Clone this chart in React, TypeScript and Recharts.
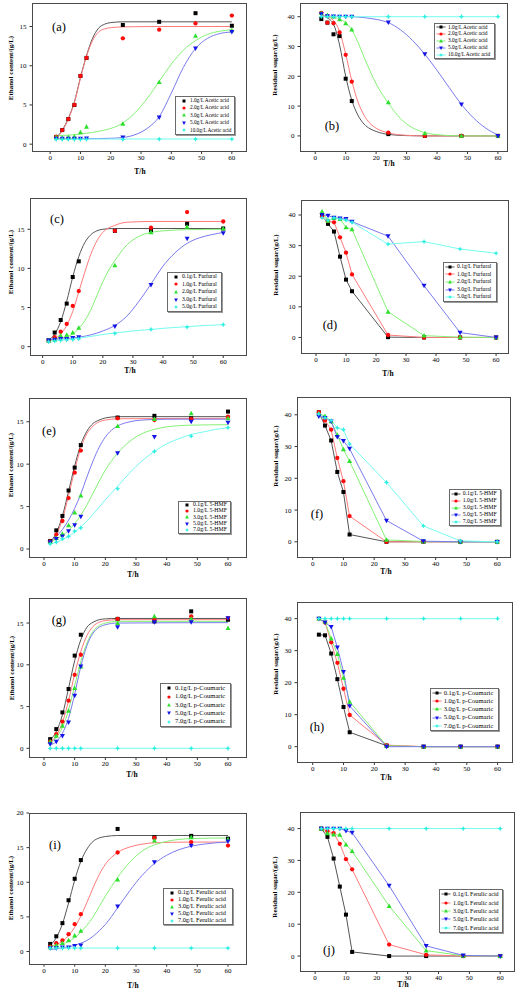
import React from 'react';
import { ComposedChart, Line, XAxis, YAxis } from 'recharts';

// ---------- data ----------
const T = [2, 4, 6, 8, 10, 12, 24, 36, 48, 60];
const X_TICKS = [0, 10, 20, 30, 40, 50, 60];
const ETH_TICKS = [0, 5, 10, 15];
const ETH_TICKS_I = [0, 5, 10, 15, 20];
const SUGAR_TICKS = [0, 10, 20, 30, 40];

const aNames = ['1.0g/L Acetic acid', '2.0g/L Acetic acid', '3.0g/L Acetic acid', '5.0g/L Acetic acid', '10.0g/L Acetic acid'];
const cNames = ['0.1g/L Furfural', '1.0g/L Furfural', '2.0g/L Furfural', '3.0g/L Furfural', '5.0g/L Furfural'];
const eNames = ['0.1g/L 5-HMF', '1.0g/L 5-HMF', '3.0g/L 5-HMF', '5.0g/L 5-HMF', '7.0g/L 5-HMF'];
const gNames = ['0.1g/L p-Coumaric', '1.0g/L p-Coumaric', '3.0g/L p-Coumaric', '5.0g/L p-Coumaric', '7.0g/L p-Coumaric'];
const iNames = ['0.1g/L Ferulic acid', '1.0g/L Ferulic acid', '3.0g/L Ferulic acid', '5.0g/L Ferulic acid', '7.0g/L Ferulic acid'];

const aPts = [
  [0.9, 1.8, 3.2, 5.0, 8.7, 11.0, 15.2, 15.6, 16.7, 15.1],
  [0.95, 1.8, 3.2, 5.0, 8.7, 11.0, 13.5, 14.6, 15.4, 16.4],
  [0.9, 0.8, 0.9, 0.95, 1.5, 2.2, 2.6, 7.9, 13.8, 14.5],
  [0.7, 0.7, 0.7, 0.7, 0.7, 0.75, 0.85, 3.4, 12.2, 14.3],
  [0.6, 0.6, 0.6, 0.6, 0.6, 0.6, 0.6, 0.65, 0.65, 0.65],
];
const aFitBlack = [[2, 0.8], [4, 1.8], [6, 3.3], [8, 5.4], [10, 8.5], [12, 11.3], [14, 13.5], [16, 14.8], [18, 15.3], [20, 15.5], [24, 15.6], [36, 15.6], [60, 15.6]];
const aFitRed = [[2, 0.8], [4, 1.7], [6, 3.2], [8, 5.3], [10, 8.4], [12, 11.2], [14, 13.2], [16, 14.3], [18, 14.7], [20, 14.85], [24, 14.95], [36, 15.0], [60, 15.0]];
const aFitGreen = [[2, 1.1], [6, 1.15], [10, 1.3], [14, 1.5], [18, 1.8], [20, 2.0], [24, 2.7], [28, 4.0], [32, 5.8], [36, 8.0], [40, 10.2], [44, 12.0], [48, 13.2], [52, 14.0], [56, 14.4], [60, 14.6]];
const aFitBlue = [[2, 0.7], [12, 0.7], [20, 0.75], [24, 0.85], [28, 1.2], [32, 2.0], [36, 3.5], [40, 6.5], [44, 9.8], [48, 12.2], [52, 13.5], [56, 14.1], [60, 14.3]];
const aFitCyan = [[2, 0.65], [60, 0.65]];

const bPts = [
  [39.2, 38.0, 34.1, 33.5, 19.2, 11.7, 0.6, 0, 0, 0],
  [41.3, 38.0, 37.8, 34.7, 27.2, 18.2, 1.1, 0, 0, 0],
  [41.2, 40.5, 40.0, 39.1, 37.8, 35.7, 11.3, 0.9, 0, 0],
  [40.9, 40.2, 40.1, 40.0, 40.0, 40.0, 38.1, 27.4, 10.6, 0],
  [40, 40, 40, 40, 40, 40, 40, 40, 40, 40],
];
const bFitBlack = [[2, 40.3], [4, 39.6], [6, 37.5], [8, 30.5], [10, 20], [12, 12], [14, 7], [16, 4], [18, 2.4], [20, 1.5], [24, 0.5], [30, 0.1], [36, 0], [60, 0]];
const bFitRed = [[2, 40.5], [4, 40], [6, 38.8], [8, 35], [10, 27.5], [12, 18.5], [14, 11.5], [16, 7], [18, 4.2], [20, 2.6], [24, 1.0], [30, 0.2], [36, 0], [60, 0]];
const bFitGreen = [[2, 40.2], [6, 39.8], [8, 39.2], [10, 38], [12, 35.5], [14, 31.5], [16, 26.5], [18, 21.8], [20, 17.5], [22, 14], [24, 11], [28, 5.8], [32, 2.7], [36, 1.1], [40, 0.4], [48, 0], [60, 0]];
const bFitBlue = [[2, 40.2], [12, 40], [16, 39.7], [20, 39.1], [24, 38], [28, 35.6], [32, 32], [36, 27.4], [40, 22], [44, 16.2], [48, 10.6], [52, 6], [56, 2.6], [60, 0.3]];
const bFitCyan = [[2, 40], [60, 40]];

const cPts = [
  [0.8, 1.8, 3.4, 5.5, 8.9, 10.9, 14.8, 14.9, 15.7, 15.1],
  [0.7, 1.2, 1.9, 2.9, 5.2, 7.1, 14.8, 15.2, 17.2, 16.0],
  [0.8, 0.9, 1.4, 1.5, 1.8, 2.4, 10.4, 14.6, 15.3, 15.1],
  [0.8, 0.9, 1.0, 1.0, 1.1, 1.2, 2.6, 7.9, 13.8, 14.5],
  [0.6, 0.7, 0.8, 0.85, 0.9, 1.0, 1.7, 2.2, 2.5, 2.8],
];
const cFitBlack = [[2, 0.8], [4, 1.6], [6, 3.2], [8, 5.8], [10, 8.9], [12, 11.5], [14, 13.3], [16, 14.3], [18, 14.8], [20, 15.0], [24, 15.1], [60, 15.1]];
const cFitRed = [[2, 0.7], [4, 1.0], [6, 1.6], [8, 2.7], [10, 4.5], [12, 7.0], [14, 9.5], [16, 11.8], [18, 13.5], [20, 14.6], [24, 15.5], [28, 15.9], [36, 16.0], [60, 16.0]];
const cFitGreen = [[2, 0.9], [6, 1.1], [10, 1.6], [12, 2.3], [14, 3.3], [16, 4.7], [18, 6.5], [20, 8.3], [22, 9.8], [24, 11.0], [28, 13.0], [32, 14.1], [36, 14.6], [40, 14.8], [48, 14.95], [60, 15.0]];
const cFitBlue = [[2, 0.9], [12, 1.2], [16, 1.5], [20, 2.0], [24, 2.7], [28, 3.9], [32, 5.8], [36, 8.0], [40, 10.3], [44, 12.0], [48, 13.2], [52, 13.9], [56, 14.3], [60, 14.6]];
const cFitCyan = [[2, 0.7], [6, 0.85], [10, 1.0], [12, 1.1], [16, 1.3], [20, 1.55], [24, 1.75], [30, 2.0], [36, 2.2], [42, 2.4], [48, 2.55], [54, 2.7], [60, 2.8]];

const dPts = [
  [40.0, 37.1, 34.6, 26.4, 18.9, 15.1, 0.1, 0, 0, 0],
  [39.5, 38.0, 37.6, 32.7, 27.7, 20.6, 0.8, 0, 0, 0],
  [41.1, 38.1, 39.0, 38.7, 36.0, 35.3, 8.4, 0.6, 0.1, 0],
  [40.0, 39.8, 39.1, 38.9, 38.7, 37.8, 33.1, 16.9, 1.6, 0],
  [39.1, 38.3, 39.1, 38.7, 38.3, 37.6, 30.5, 31.3, 28.9, 27.5],
];

const ePts = [
  [0.95, 2.2, 3.9, 6.9, 9.6, 12.25, 15.5, 15.7, 15.4, 16.2],
  [0.9, 1.7, 3.3, 6.0, 9.0, 11.6, 15.4, 15.2, 15.3, 15.6],
  [0.8, 1.3, 1.8, 2.8, 4.3, 6.3, 14.5, 15.3, 16.0, 15.4],
  [0.8, 1.2, 1.5, 2.1, 2.8, 3.8, 11.3, 13.2, 15.0, 14.9],
  [0.6, 0.8, 1.2, 1.5, 2.1, 2.5, 7.1, 11.5, 13.3, 14.3],
];
const eFitBlack = [[2, 0.8], [4, 1.9], [6, 3.9], [8, 6.8], [10, 9.8], [12, 12.3], [14, 13.9], [16, 14.8], [18, 15.2], [20, 15.45], [24, 15.6], [60, 15.6]];
const eFitRed = [[2, 0.7], [4, 1.7], [6, 3.5], [8, 6.3], [10, 9.3], [12, 11.9], [14, 13.6], [16, 14.5], [18, 15.0], [20, 15.2], [24, 15.35], [60, 15.4]];
const eFitBlue = [[2, 0.9], [4, 1.5], [6, 2.3], [8, 3.4], [10, 4.8], [12, 6.5], [14, 8.5], [16, 10.4], [18, 12.0], [20, 13.2], [22, 14.0], [24, 14.5], [28, 15.0], [32, 15.2], [40, 15.3], [60, 15.3]];
const eFitGreen = [[2, 0.8], [4, 1.2], [6, 1.6], [8, 2.2], [10, 3.0], [12, 4.0], [14, 5.2], [16, 6.6], [18, 8.0], [20, 9.3], [24, 11.3], [28, 12.7], [32, 13.6], [36, 14.1], [40, 14.4], [48, 14.6], [60, 14.65]];
const eFitCyan = [[2, 0.6], [4, 0.8], [6, 1.1], [8, 1.5], [10, 2.0], [12, 2.6], [14, 3.3], [16, 4.1], [20, 5.8], [24, 7.4], [28, 9.0], [32, 10.4], [36, 11.5], [40, 12.4], [44, 13.0], [48, 13.5], [52, 13.8], [56, 14.1], [60, 14.3]];

const fPts = [
  [40.8, 36.6, 31.9, 22.0, 15.7, 2.3, 0, 0, 0, 0],
  [40.8, 38.2, 35.3, 26.4, 19.1, 8.1, 0, 0, 0, 0],
  [40.3, 39.6, 37.9, 33.7, 29.1, 25.4, 0.6, 0.1, 0, 0],
  [39.5, 39.0, 37.9, 33.0, 31.8, 29.3, 6.7, 0.2, 0, 0],
  [40.3, 39.0, 38.2, 35.9, 35.3, 30.8, 18.7, 5.0, 0.3, 0],
];

const gPts = [
  [1.1, 2.3, 4.3, 7.1, 11.1, 13.6, 15.5, 15.2, 16.4, 15.4],
  [0.8, 1.7, 3.2, 5.7, 8.8, 11.2, 15.5, 15.4, 15.8, 15.6],
  [0.8, 1.5, 2.7, 4.5, 7.2, 9.8, 15.0, 15.8, 15.5, 14.4],
  [0.5, 0.8, 1.5, 3.1, 6.3, 9.8, 14.5, 15.1, 15.1, 15.6],
  [0, 0, 0, 0, 0, 0, 0, 0, 0, 0],
];
const gFitBlack = [[2, 1.0], [4, 2.0], [6, 4.0], [8, 7.2], [10, 10.5], [12, 13.0], [14, 14.5], [16, 15.1], [18, 15.4], [20, 15.5], [24, 15.55], [60, 15.55]];
const gFitRed = [[2, 0.8], [4, 1.5], [6, 3.1], [8, 5.7], [10, 8.9], [12, 11.6], [14, 13.5], [16, 14.6], [18, 15.1], [20, 15.3], [24, 15.4], [60, 15.4]];
const gFitGreen = [[2, 0.7], [4, 1.3], [6, 2.5], [8, 4.6], [10, 7.5], [12, 10.4], [14, 12.6], [16, 14.0], [18, 14.7], [20, 15.0], [24, 15.2], [60, 15.2]];
const gFitBlue = [[2, 0.4], [4, 0.8], [6, 1.8], [8, 3.6], [10, 6.5], [12, 9.8], [14, 12.3], [16, 13.8], [18, 14.5], [20, 14.8], [24, 15.0], [60, 15.05]];
const gFitCyan = [[2, 0], [60, 0]];

const hPts = [
  [35.0, 34.8, 29.1, 21.1, 12.4, 4.5, 0.3, 0, 0, 0],
  [40.0, 38.8, 32.6, 26.2, 18.1, 9.9, 0.5, 0, 0, 0],
  [40.0, 39.0, 33.8, 28.9, 21.5, 14.0, 0.3, 0, 0, 0],
  [40.0, 38.8, 37.4, 31.0, 23.4, 12.7, 0, 0, 0, 0],
  [40, 40, 40, 40, 40, 40, 40, 40, 40, 40],
];

const iPts = [
  [1.1, 2.2, 4.1, 7.4, 10.5, 13.2, 17.7, 16.5, 16.7, 16.3],
  [0.7, 1.2, 1.6, 2.5, 3.95, 5.4, 14.3, 16.4, 15.8, 15.3],
  [0.6, 0.9, 1.2, 1.6, 2.3, 3.0, 10.4, 16.0, 16.5, 16.2],
  [0.5, 0.5, 0.6, 0.6, 0.8, 0.9, 6.5, 12.9, 15.3, 15.9],
  [0.5, 0.5, 0.5, 0.5, 0.5, 0.5, 0.5, 0.5, 0.5, 0.5],
];
const iFitBlack = [[2, 0.9], [4, 2.0], [6, 4.0], [8, 7.0], [10, 10.3], [12, 13.0], [14, 14.8], [16, 15.9], [18, 16.4], [20, 16.6], [24, 16.75], [60, 16.75]];
const iFitRed = [[2, 0.7], [4, 1.0], [6, 1.5], [8, 2.3], [10, 3.5], [12, 5.1], [14, 7.1], [16, 9.2], [18, 11.1], [20, 12.6], [22, 13.6], [24, 14.3], [28, 15.1], [32, 15.5], [36, 15.7], [48, 15.8], [60, 15.8]];
const iFitGreen = [[2, 0.8], [6, 1.1], [10, 2.0], [12, 2.8], [14, 3.8], [16, 5.0], [18, 6.5], [20, 8.0], [22, 9.4], [24, 10.7], [28, 12.9], [32, 14.5], [36, 15.4], [40, 15.9], [48, 16.3], [60, 16.4]];
const iFitBlue = [[2, 0.3], [6, 0.5], [10, 0.9], [12, 1.2], [14, 1.6], [16, 2.2], [18, 3.0], [20, 3.9], [24, 6.3], [28, 8.8], [32, 11.0], [36, 12.7], [40, 13.9], [44, 14.7], [48, 15.2], [52, 15.5], [56, 15.7], [60, 15.8]];
const iFitCyan = [[2, 0.5], [60, 0.5]];

const jPts = [
  [40.0, 37.4, 30.6, 21.8, 13.0, 1.3, 0, 0, 0, 0],
  [40.0, 39.2, 38.6, 35.2, 30.4, 27.2, 3.6, 0.4, 0, 0],
  [40.0, 38.5, 38.1, 38.0, 35.0, 32.9, 15.7, 1.7, 0.1, 0],
  [40.0, 40.0, 40.0, 40.0, 39.3, 38.7, 22.1, 3.2, 0.2, 0],
  [40, 40, 40, 40, 40, 40, 40, 40, 40, 40],
];

// ---------- styles ----------
const FONT = '"Liberation Serif","Times New Roman",serif';
const COLORS = ['#000000', '#ff0a0a', '#2ee02e', '#1414e6', '#2ef0e0'];
const LINE_COLORS = ['#555555', '#ff7a7a', '#84f274', '#7a7aee', '#74fcf0'];
const ETH = 'Ethanol content/(g/L)';
const SUG = 'Residual sugar/(g/L)';

type Fit = { d: number[][]; c: number };
type Cfg = {
  left: number; right: number; top: number; bottom: number;
  xDomain: [number, number]; yDomain: [number, number]; yTicks: number[];
  yTitle: string; yTitlePos: [number, number]; tPos: [number, number];
  label: string; labelPos: [number, number];
  legend: [number, number, number, number]; legendFont: number; legendLines: boolean;
  names: string[]; pts: number[][]; connect: boolean; fits?: Fit[];
};

const fits5 = (b: number[][], r: number[][], g: number[][], bl: number[][], c: number[][], order = [0, 1, 2, 3, 4]): Fit[] =>
  [b, r, g, bl, c].map((d, i) => ({ d, c: order[i] }));

const PANELS: Cfg[] = [
  { left: 32, right: 247, top: 3, bottom: 152, xDomain: [-6, 65], yDomain: [-1, 18], yTicks: ETH_TICKS,
    yTitle: ETH, yTitlePos: [11, 68], tPos: [140, 172], label: '(a)', labelPos: [59, 27],
    legend: [175, 96, 235, 135], legendFont: 5.3, legendLines: false, names: aNames, pts: aPts, connect: false,
    fits: fits5(aFitBlack, aFitRed, aFitGreen, aFitBlue, aFitCyan) },
  { left: 300, right: 508, top: 3, bottom: 152, xDomain: [-5, 63.3], yDomain: [-5.4, 44.6], yTicks: SUGAR_TICKS,
    yTitle: SUG, yTitlePos: [275, 65], tPos: [389, 164], label: '(b)', labelPos: [332, 126],
    legend: [434, 23, 495, 59], legendFont: 5.4, legendLines: true, names: aNames, pts: bPts, connect: false,
    fits: fits5(bFitBlack, bFitRed, bFitGreen, bFitBlue, bFitCyan) },
  { left: 30, right: 247, top: 198, bottom: 356, xDomain: [-4.2, 67.9], yDomain: [-1.2, 19], yTicks: ETH_TICKS,
    yTitle: ETH, yTitlePos: [11, 262], tPos: [130, 371], label: '(c)', labelPos: [57, 219],
    legend: [167, 272, 222, 312], legendFont: 5.7, legendLines: false, names: cNames, pts: cPts, connect: false,
    fits: fits5(cFitBlack, cFitRed, cFitGreen, cFitBlue, cFitCyan) },
  { left: 301.3, right: 508.7, top: 200, bottom: 354, xDomain: [-5, 64.1], yDomain: [-5.4, 44.9], yTicks: SUGAR_TICKS,
    yTitle: SUG, yTitlePos: [276, 265], tPos: [388, 374], label: '(d)', labelPos: [330, 325],
    legend: [443, 262, 497, 302], legendFont: 5.6, legendLines: true, names: cNames, pts: dPts, connect: true },
  { left: 29.3, right: 247.3, top: 398, bottom: 558, xDomain: [-4.9, 66.2], yDomain: [-1.06, 17.8], yTicks: ETH_TICKS,
    yTitle: ETH, yTitlePos: [11, 465], tPos: [133, 575], label: '(e)', labelPos: [49, 431],
    legend: [178, 501, 231, 534], legendFont: 5.8, legendLines: false, names: eNames, pts: ePts, connect: false,
    fits: fits5(eFitBlack, eFitRed, eFitBlue, eFitGreen, eFitCyan, [0, 1, 3, 2, 4]) },
  { left: 297.3, right: 511.3, top: 397, bottom: 558, xDomain: [-5.1, 64.5], yDomain: [-5.1, 45.6], yTicks: SUGAR_TICKS,
    yTitle: SUG, yTitlePos: [276, 456], tPos: [386, 572], label: '(f)', labelPos: [317, 514],
    legend: [448.7, 489, 500.7, 526], legendFont: 5.8, legendLines: true, names: eNames, pts: fPts, connect: true },
  { left: 29.3, right: 247.3, top: 598, bottom: 758, xDomain: [-4.9, 66.2], yDomain: [-1.16, 18], yTicks: ETH_TICKS,
    yTitle: ETH, yTitlePos: [12, 668], tPos: [132, 775], label: '(g)', labelPos: [59, 620],
    legend: [160, 683, 230.7, 727], legendFont: 6.6, legendLines: false, names: gNames, pts: gPts, connect: false,
    fits: fits5(gFitBlack, gFitRed, gFitGreen, gFitBlue, gFitCyan) },
  { left: 297.3, right: 513, top: 602, bottom: 763, xDomain: [-5.1, 64.9], yDomain: [-5.1, 45.2], yTicks: SUGAR_TICKS,
    yTitle: SUG, yTitlePos: [276, 664], tPos: [386, 778], label: '(h)', labelPos: [317, 727],
    legend: [429.7, 687.7, 498.7, 731], legendFont: 6.5, legendLines: true, names: gNames, pts: hPts, connect: true },
  { left: 29.3, right: 247.3, top: 813.3, bottom: 965, xDomain: [-4.9, 66.2], yDomain: [-1.9, 20], yTicks: ETH_TICKS_I,
    yTitle: ETH, yTitlePos: [11, 888], tPos: [133, 986], label: '(i)', labelPos: [55, 845],
    legend: [163, 888, 233, 925], legendFont: 6.3, legendLines: false, names: iNames, pts: iPts, connect: false,
    fits: fits5(iFitBlack, iFitRed, iFitGreen, iFitBlue, iFitCyan) },
  { left: 299.7, right: 514.7, top: 811.7, bottom: 971.7, xDomain: [-4.9, 64.8], yDomain: [-5, 45.2], yTicks: SUGAR_TICKS,
    yTitle: SUG, yTitlePos: [275, 887], tPos: [403, 985], label: '(j)', labelPos: [329, 950],
    legend: [439, 889, 503, 933], legendFont: 6.0, legendLines: true, names: iNames, pts: jPts, connect: true },
];

function Mk({ cx, cy, k, s = 1 }: { cx: number; cy: number; k: number; s?: number }) {
  const c = COLORS[k];
  const r = 2.0 * s;
  if (k === 0) return <rect x={cx - r} y={cy - r} width={2 * r} height={2 * r} fill={c} />;
  if (k === 1) return <circle cx={cx} cy={cy} r={r * 1.08} fill={c} />;
  if (k === 2) return <path d={`M${cx},${cy - r * 1.3}L${cx + r * 1.25},${cy + r * 0.95}L${cx - r * 1.25},${cy + r * 0.95}Z`} fill={c} />;
  if (k === 3) return <path d={`M${cx},${cy + r * 1.3}L${cx + r * 1.25},${cy - r * 0.95}L${cx - r * 1.25},${cy - r * 0.95}Z`} fill={c} />;
  const R = 2.6 * s, q = 0.85 * s;
  return (
    <path
      d={`M${cx},${cy - R}L${cx + q},${cy - q}L${cx + R},${cy}L${cx + q},${cy + q}L${cx},${cy + R}L${cx - q},${cy + q}L${cx - R},${cy}L${cx - q},${cy - q}Z`}
      fill={c}
    />
  );
}

const YW = 30, PT = 4, PR = 4, XH = 20;

function Panel({ cfg }: { cfg: Cfg }) {
  const w = cfg.right - cfg.left;
  const h = cfg.bottom - cfg.top;
  const tick = { fontSize: 7, fill: '#000', fontFamily: FONT };
  const [lx1, ly1, lx2, ly2] = cfg.legend;
  return (
    <>
      <div style={{ position: 'absolute', left: cfg.left - YW, top: cfg.top - PT }}>
        <ComposedChart width={w + YW + PR} height={h + PT + XH} margin={{ top: PT, right: PR, left: 0, bottom: 0 }}>
          <XAxis type="number" dataKey="x" domain={cfg.xDomain} ticks={X_TICKS} interval={0} allowDataOverflow
            height={XH} axisLine={false} tickLine={{ stroke: '#333' }} tickSize={2} tickMargin={1.5} tick={tick} />
          <YAxis type="number" domain={cfg.yDomain} ticks={cfg.yTicks} interval={0} allowDataOverflow
            width={YW} axisLine={false} tickLine={{ stroke: '#333' }} tickSize={2.5} tickMargin={3} tick={tick} />
          {(cfg.fits || []).map((f, i) => (
            <Line key={`f${i}`} data={f.d.map(([x, y]) => ({ x, y }))} dataKey="y" type="monotone"
              stroke={LINE_COLORS[f.c]} strokeWidth={1} dot={false} activeDot={false} isAnimationActive={false} />
          ))}
          {cfg.pts.map((s, i) => (
            <Line key={`p${i}`} data={T.map((x, j) => ({ x, y: s[j] }))} dataKey="y" type="linear"
              stroke={cfg.connect ? LINE_COLORS[i] : 'none'} strokeWidth={1}
              dot={(p: any) => <Mk key={`d${i}-${p.index}`} cx={p.cx} cy={p.cy} k={i} />}
              activeDot={false} isAnimationActive={false} />
          ))}
        </ComposedChart>
      </div>
      <div style={{ position: 'absolute', left: cfg.left, top: cfg.top, width: w, height: h, border: '1px solid #4a4a4a', boxSizing: 'border-box', pointerEvents: 'none' }} />
      <div style={{ position: 'absolute', left: cfg.tPos[0], top: cfg.tPos[1], transform: 'translate(-50%,-50%)', fontFamily: FONT, fontWeight: 'bold', fontSize: 7.5, whiteSpace: 'nowrap', lineHeight: 1 }}>T/h</div>
      <div style={{ position: 'absolute', left: cfg.yTitlePos[0], top: cfg.yTitlePos[1], transform: 'translate(-50%,-50%) rotate(-90deg)', fontFamily: FONT, fontWeight: 'bold', fontSize: 7, whiteSpace: 'nowrap', lineHeight: 1 }}>{cfg.yTitle}</div>
      <div style={{ position: 'absolute', left: cfg.labelPos[0], top: cfg.labelPos[1], transform: 'translate(-50%,-50%)', fontFamily: FONT, fontSize: 12.5, whiteSpace: 'nowrap', lineHeight: 1 }}>{cfg.label}</div>
      <div style={{ position: 'absolute', left: lx1, top: ly1, width: lx2 - lx1, height: ly2 - ly1, border: '1px solid #6a6a6a', boxShadow: '1px 1px 0 #9a9a9a', boxSizing: 'border-box', background: '#fff', display: 'flex', flexDirection: 'column', justifyContent: 'space-evenly', paddingLeft: cfg.legendLines ? 1 : 5 }}>
        {cfg.names.map((n, i) => (
          <div key={n} style={{ display: 'flex', alignItems: 'center', height: (ly2 - ly1 - 2) / 5 }}>
            <svg width={cfg.legendLines ? 10 : 7} height={6} style={{ flex: 'none' }}>
              {cfg.legendLines && <line x1={0.5} y1={3} x2={9.5} y2={3} stroke={LINE_COLORS[i]} strokeWidth={1} />}
              <Mk cx={cfg.legendLines ? 5 : 3} cy={3} k={i} s={0.75} />
            </svg>
            <span style={{ fontFamily: FONT, fontSize: cfg.legendFont, marginLeft: 2, whiteSpace: 'nowrap', lineHeight: 1 }}>{n}</span>
          </div>
        ))}
      </div>
    </>
  );
}

export default function App() {
  return (
    <div style={{ position: 'absolute', left: 0, top: 0, width: 517, height: 992, background: '#fff', overflow: 'hidden' }}>
      {PANELS.map((p) => <Panel key={p.label} cfg={p} />)}
    </div>
  );
}
